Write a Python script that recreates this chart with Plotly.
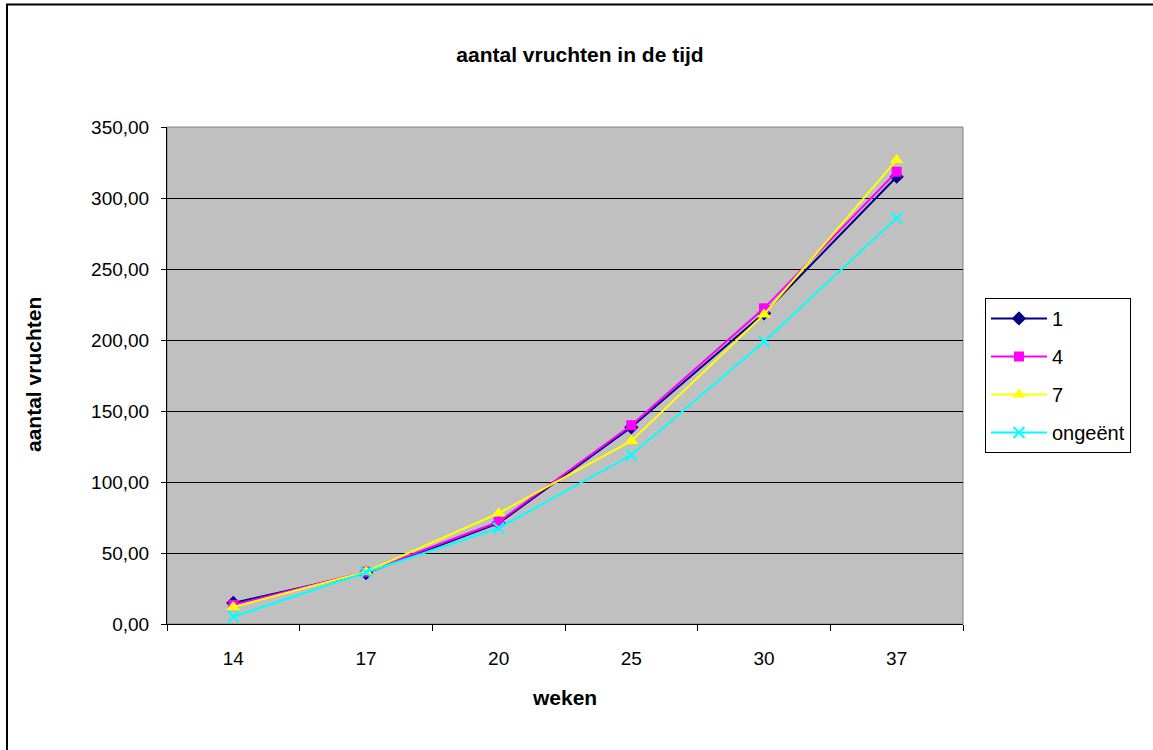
import plotly.graph_objects as go

# Weeks (categorical x axis)
weken = ["14", "17", "20", "25", "30", "37"]

# Number of fruits per treatment
serie_1 = [14.8, 35.9, 71.0, 138.5, 218.8, 315.0]
serie_4 = [13.4, 36.8, 72.0, 140.0, 222.3, 318.5]
serie_7 = [12.0, 36.8, 78.0, 128.9, 218.0, 326.8]
ongeent = [5.1, 36.5, 67.6, 119.0, 198.8, 286.0]

series_names = ["1", "4", "7", "ongeënt"]
y_ticks = [0, 50, 100, 150, 200, 250, 300, 350]

FONT = "Arial, Liberation Sans, sans-serif"

fig = go.Figure()

styles = [
    (serie_1, "#000080", dict(symbol="diamond", size=11, color="#000080")),
    (serie_4, "#FF00FF", dict(symbol="square", size=10, color="#FF00FF")),
    (serie_7, "#FFFF00", dict(symbol="triangle-up", size=12, color="#FFFF00")),
    (ongeent, "#00FFFF", dict(symbol="x-thin", size=11, color="#00FFFF",
                              line=dict(color="#00FFFF", width=2))),
]

for name, (vals, col, mk) in zip(series_names, styles):
    fig.add_trace(go.Scatter(
        x=weken, y=vals, name=name, mode="lines+markers",
        line=dict(color=col, width=2), marker=mk,
        legendgroup=name,
    ))

L, R, T, B = 167, 190, 127, 126

fig.update_layout(
    width=1153, height=750,
    margin=dict(l=L, r=R, t=T, b=B, autoexpand=False),
    paper_bgcolor="white",
    plot_bgcolor="#C0C0C0",
    separators=",.",
    font=dict(family=FONT, size=19, color="black"),
    showlegend=True,
    legend=dict(
        x=1.0276, y=0.656, xanchor="left", yanchor="top",
        bgcolor="white", bordercolor="black", borderwidth=1,
        font=dict(family=FONT, size=20, color="black"),
        tracegroupgap=9, itemwidth=56,
    ),
    title=dict(
        text="aantal vruchten in de tijd",
        font=dict(family=FONT, size=21, color="black", weight="bold"),
        x=580 / 1153, xref="container", xanchor="center",
        y=1 - 55 / 750, yref="container", yanchor="middle",
    ),
    xaxis=dict(
        type="category", tickson="boundaries", range=[-0.5, 5.5],
        ticks="outside", ticklen=6, tickcolor="black",
        showline=True, linecolor="black", linewidth=1,
        showgrid=False, ticklabelstandoff=17,
        tickfont=dict(family=FONT, size=19),
    ),
    yaxis=dict(
        range=[0, 350], tickvals=y_ticks, tickformat=".2f",
        ticks="outside", ticklen=5, tickcolor="black",
        showline=True, linecolor="black", linewidth=1,
        showgrid=True, gridcolor="black", gridwidth=1,
        zeroline=False, ticklabelstandoff=8,
        tickfont=dict(family=FONT, size=19),
    ),
    shapes=[
        # plot area border (top/right in grey)
        dict(type="rect", xref="paper", yref="paper", x0=0, x1=1, y0=0, y1=1,
             line=dict(color="#808080", width=1), layer="below"),
        # outer chart frame
        dict(type="rect", xref="paper", yref="paper",
             x0=-0.2010, x1=1.35, y0=-0.35, y1=1.2465,
             line=dict(color="black", width=2)),
    ],
    annotations=[
        dict(text="<b>aantal vruchten</b>", xref="paper", yref="paper",
             x=(33 - L) / 796, y=(624 - 375) / 497, textangle=-90,
             showarrow=False, xanchor="center", yanchor="middle",
             font=dict(family=FONT, size=21)),
        dict(text="<b>weken</b>", xref="paper", yref="paper",
             x=0.4994, y=(624 - 697) / 497,
             showarrow=False, xanchor="center", yanchor="middle",
             font=dict(family=FONT, size=21)),
    ],
)

fig.write_html("out.html")
